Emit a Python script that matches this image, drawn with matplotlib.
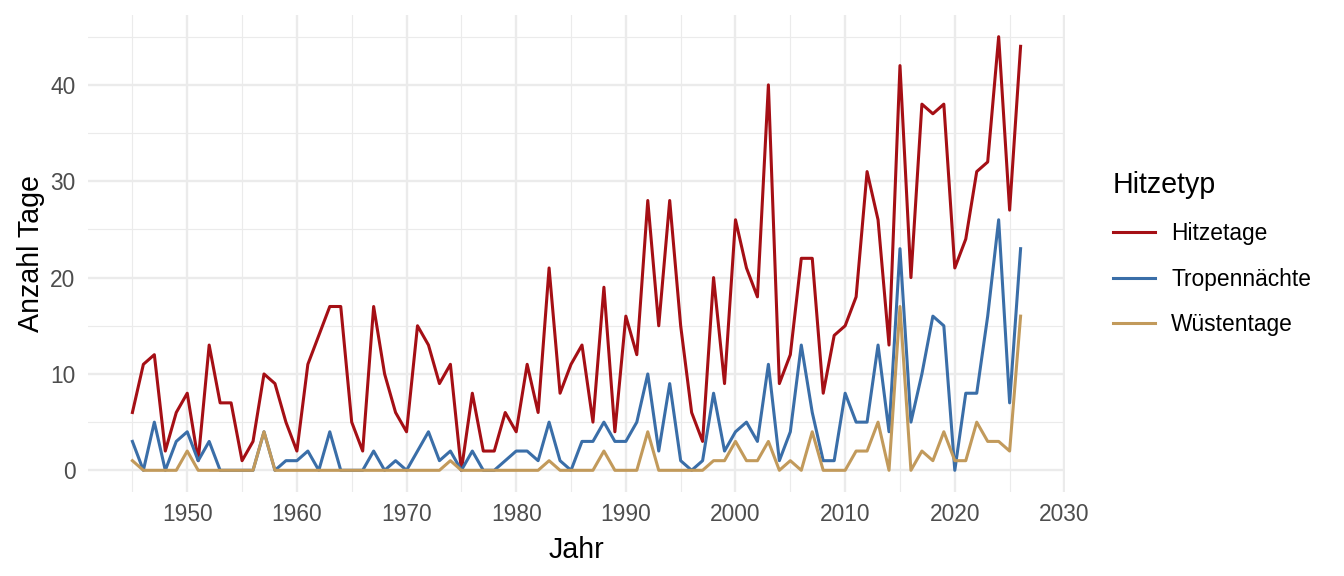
import numpy as np
import matplotlib
matplotlib.use("Agg")
import matplotlib.pyplot as plt
from matplotlib.ticker import MultipleLocator

plt.rcParams['font.family'] = ['Liberation Sans', 'DejaVu Sans']

years = list(range(1945, 2027))

hitzetage = [6, 11, 12, 2, 6, 8, 1, 13, 7, 7,
             1, 3, 10, 9, 5, 2, 11, 14, 17, 17,
             5, 2, 17, 10, 6, 4, 15, 13, 9, 11,
             0, 8, 2, 2, 6, 4, 11, 6, 21, 8,
             11, 13, 5, 19, 4, 16, 12, 28, 15, 28,
             15, 6, 3, 20, 9, 26, 21, 18, 40, 9,
             12, 22, 22, 8, 14, 15, 18, 31, 26, 13,
             42, 20, 38, 37, 38, 21, 24, 31, 32, 45,
             27, 44]

tropennaechte = [3, 0, 5, 0, 3, 4, 1, 3, 0, 0,
                 0, 0, 4, 0, 1, 1, 2, 0, 4, 0,
                 0, 0, 2, 0, 1, 0, 2, 4, 1, 2,
                 0, 2, 0, 0, 1, 2, 2, 1, 5, 1,
                 0, 3, 3, 5, 3, 3, 5, 10, 2, 9,
                 1, 0, 1, 8, 2, 4, 5, 3, 11, 1,
                 4, 13, 6, 1, 1, 8, 5, 5, 13, 4,
                 23, 5, 10, 16, 15, 0, 8, 8, 16, 26,
                 7, 23]

wuestentage = [1, 0, 0, 0, 0, 2, 0, 0, 0, 0,
               0, 0, 4, 0, 0, 0, 0, 0, 0, 0,
               0, 0, 0, 0, 0, 0, 0, 0, 0, 1,
               0, 0, 0, 0, 0, 0, 0, 0, 1, 0,
               0, 0, 0, 2, 0, 0, 0, 4, 0, 0,
               0, 0, 0, 1, 1, 3, 1, 1, 3, 0,
               1, 0, 4, 0, 0, 0, 2, 2, 5, 0,
               17, 0, 2, 1, 4, 1, 1, 5, 3, 3,
               2, 16]

series = [("Hitzetage", hitzetage, "#A50F15"),
          ("Tropennächte", tropennaechte, "#3A6EA8"),
          ("Wüstentage", wuestentage, "#C29A5B")]

fig = plt.figure(figsize=(13.44, 5.76), dpi=100)
ax = fig.add_axes([88 / 1344, 1 - 492 / 576, (1065 - 88) / 1344, (492 - 15) / 576])

for name, vals, col in series:
    ax.plot(years, vals, color=col, lw=2.2, label=name)

ax.set_xlim(1945 - 0.05 * 81, 2026 + 0.05 * 81)
ax.set_ylim(-0.05 * 45, 45 * 1.05)
ax.xaxis.set_major_locator(MultipleLocator(10))
ax.xaxis.set_minor_locator(MultipleLocator(5))
ax.yaxis.set_major_locator(MultipleLocator(10))
ax.yaxis.set_minor_locator(MultipleLocator(5))
ax.set_xticks(range(1950, 2031, 10))

ax.grid(which='major', color='#EBEBEB', lw=1.7)
ax.grid(which='minor', color='#EBEBEB', lw=0.85)
ax.set_axisbelow(True)
for s in ax.spines.values():
    s.set_visible(False)
ax.tick_params(which='both', length=0, labelsize=16.4, labelcolor='#4D4D4D')
ax.tick_params(axis='x', pad=8)
ax.tick_params(axis='y', pad=9)

ax.set_xlabel("Jahr", fontsize=20.6, labelpad=7)
ax.set_ylabel("Anzahl Tage", fontsize=20.6, labelpad=4)

leg = ax.legend(title="Hitzetyp", loc='upper left', bbox_to_anchor=(1104 / 1344, 1 - 162 / 576),
                bbox_transform=fig.transFigure, frameon=False, fontsize=16.4,
                title_fontsize=20.6, handlelength=1.85, handletextpad=0.7,
                labelspacing=1.0, borderaxespad=0)
leg._legend_box.align = "left"

fig.savefig("out.png", dpi=100)
